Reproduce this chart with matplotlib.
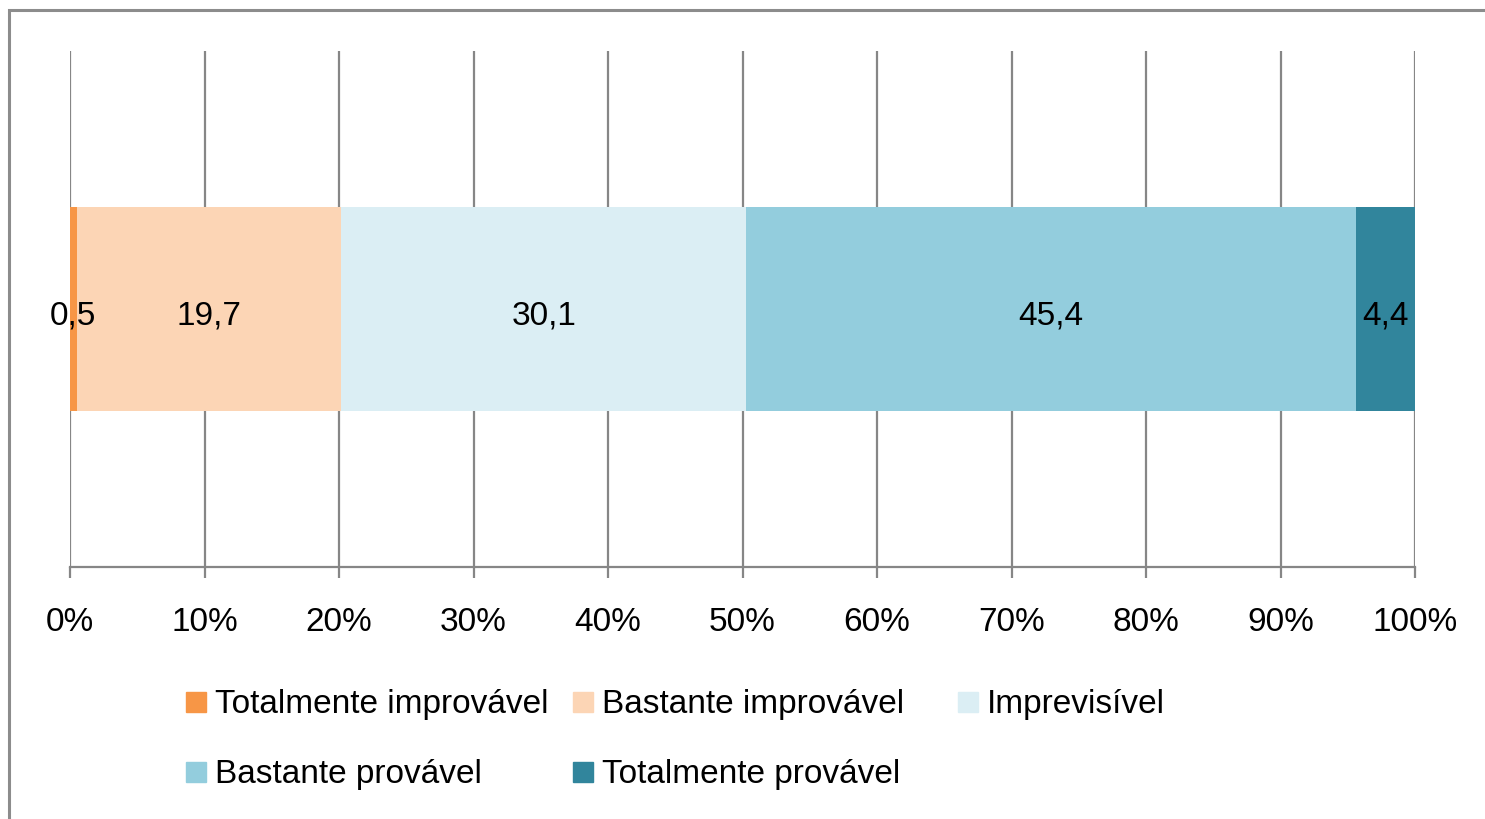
import matplotlib.pyplot as plt
from matplotlib.patches import Rectangle

plt.rcParams['font.family'] = ['Liberation Sans', 'DejaVu Sans']

# --- dados ---
categories = ["Totalmente improvável", "Bastante improvável", "Imprevisível",
              "Bastante provável", "Totalmente provável"]
values = [0.5, 19.7, 30.1, 45.4, 4.4]
colors = ["#F79646", "#FCD5B5", "#DBEEF4", "#93CDDD", "#31859C"]
ticks = [0, 10, 20, 30, 40, 50, 60, 70, 80, 90, 100]

W, H = 1485, 819
fig = plt.figure(figsize=(W / 100, H / 100), dpi=100)
ax = fig.add_axes([70 / W, 1 - 567 / H, (1415 - 70) / W, (567 - 51) / H])

grid_col = "#868686"
fs = 24
total = sum(values)
left = 0
for cat, v, c in zip(categories, values, colors):
    w = v / total * 100
    bars = ax.barh(0, w, left=left, height=0.395, color=c, label=cat, zorder=3)
    anns = ax.bar_label(bars, labels=[f"{v:.1f}".replace(".", ",")], label_type="center",
                        fontsize=fs, color="black", padding=0)
    for a in anns:
        a.set_zorder(10)
        a.xyann = (0, -5)
    left += w

ax.set_xlim(0, 100)
ax.set_ylim(-0.5, 0.5)
ax.set_xticks(ticks)
ax.set_xticklabels([f"{t}%" for t in ticks], fontsize=fs)
ax.set_yticks([])
ax.grid(axis="x", color=grid_col, linewidth=1.6, zorder=0)
for s in ["top", "right", "left"]:
    ax.spines[s].set_visible(False)
ax.spines["bottom"].set_color(grid_col)
ax.spines["bottom"].set_linewidth(1.6)
ax.tick_params(axis="x", length=8, width=1.6, color=grid_col, pad=21)

# --- legenda (posições estilo Excel) ---
leg_pos = [(186, 702), (573, 702), (958, 702), (186, 772), (573, 772)]
for (px, py), cat, c in zip(leg_pos, categories, colors):
    fig.patches.append(Rectangle((px / W, 1 - (py + 10) / H), 20 / W, 20 / H,
                                 transform=fig.transFigure, color=c))
    fig.text((px + 29) / W, 1 - (py + 3) / H, cat, fontsize=fs, va="center", ha="left")

# --- moldura ---
fig.patches.append(Rectangle((9 / W, -0.05), 1.1, 1.05 - 10 / H, transform=fig.transFigure,
                             fill=False, edgecolor="#8c8c8c", linewidth=2.2))

fig.savefig("out.png", dpi=100)
